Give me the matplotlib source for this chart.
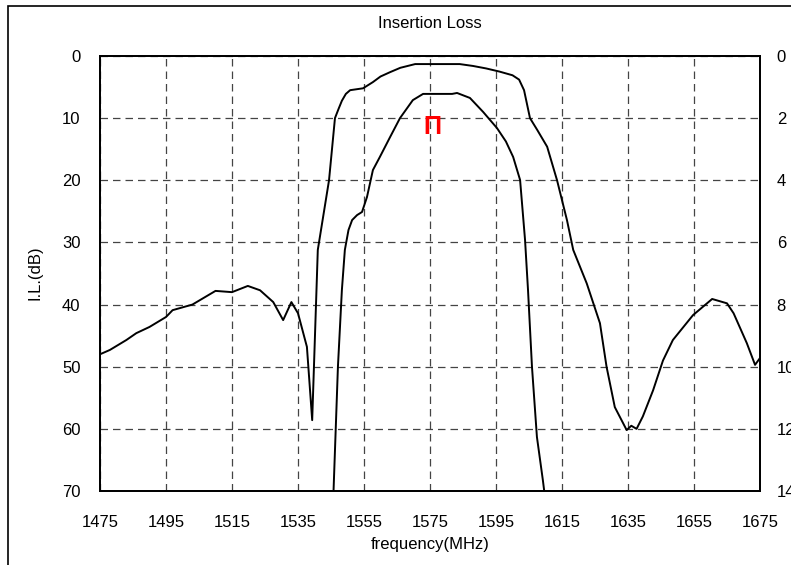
import matplotlib
matplotlib.use("Agg")
import matplotlib.pyplot as plt
from matplotlib.patches import Rectangle

plt.rcParams['font.family'] = ['Liberation Sans Narrow', 'Liberation Sans', 'DejaVu Sans']

# Wide response (left axis, dB)
wide_freq = [1475, 1478, 1483, 1486, 1490, 1495, 1497, 1503, 1510, 1515, 1519.8,
             1523.5, 1527.5, 1530.5, 1533, 1535, 1537.7, 1539.3, 1541, 1544.4,
             1546.2, 1547.3, 1548.3, 1549.5, 1550.8, 1554.7, 1557.7, 1560, 1562.9,
             1566, 1570.5, 1584, 1588, 1592, 1596, 1600, 1602, 1603.5, 1605.3,
             1607.5, 1610.5, 1613.5, 1616.5, 1618.4, 1622.5,
             1626.5, 1628.5, 1631, 1634.6, 1636, 1637.6, 1639.5, 1642.6, 1645.6,
             1648.6, 1654.7, 1660.5, 1665, 1667, 1671, 1673.5, 1675]
wide_loss = [48.0, 47.3, 45.7, 44.6, 43.6, 42.0, 40.9, 40.0, 37.8, 38.0, 37.0,
             37.7, 39.6, 42.5, 39.6, 41.4, 46.8, 58.6, 31.2, 20.0,
             10.0, 8.5, 7.2, 6.1, 5.5, 5.2, 4.2, 3.3, 2.6,
             1.9, 1.3, 1.3, 1.6, 2.0, 2.5, 3.1, 3.8, 5.5, 10.0,
             11.9, 14.6, 20.0, 26.4, 31.2, 36.6,
             43.0, 50.0, 56.5, 60.2, 59.5, 60.0, 58.0, 53.8, 49.0,
             45.7, 41.7, 39.1, 39.8, 41.4, 46.2, 49.7, 48.6]

# Narrow response (right axis)
narrow_freq = [1545.6, 1547.1, 1548.3, 1549.2, 1550.3, 1551.4, 1552.9, 1554.4, 1555.9,
               1557.7, 1559.8, 1562.9, 1565.9, 1569.8, 1572.9, 1581.7, 1583.2,
               1587.1, 1591.1, 1595.3, 1598, 1600.2, 1602.3, 1603.8, 1604.7, 1605.9,
               1607.4, 1609.2, 1610.2]
narrow_loss = [14.5, 10.0, 7.53, 6.24, 5.6, 5.28, 5.12, 5.02, 4.54,
               3.67, 3.25, 2.61, 2.0, 1.42, 1.22, 1.22, 1.19,
               1.35, 1.80, 2.32, 2.75, 3.25, 3.99, 5.92, 7.53, 10.0,
               12.26, 13.65, 14.5]

x_ticks = [1475, 1495, 1515, 1535, 1555, 1575, 1595, 1615, 1635, 1655, 1675]
left_ticks = [0, 10, 20, 30, 40, 50, 60, 70]
right_ticks = [0, 2, 4, 6, 8, 10, 12, 14]

FS = 12

fig = plt.figure(figsize=(7.91, 5.65), dpi=100)
ax = fig.add_axes([100/791, 1-491/565, 660/791, 435/565])

# outer frame
fig.patches.append(Rectangle((8/791, -0.1), 1.2, 1 - 6/565 + 0.1, transform=fig.transFigure,
                             fill=False, edgecolor='black', linewidth=1.2))

ax.plot(wide_freq, wide_loss, color='black', linewidth=1.4)
ax.set_xlim(1475, 1675)
ax.set_ylim(70, 0)
ax.set_xticks(x_ticks)
ax.set_yticks(left_ticks)
ax.grid(True, color='#444444', linestyle=(0, (6, 4)), linewidth=0.9)
ax.tick_params(length=0, labelsize=FS)
ax.tick_params(axis='x', pad=17)
ax.tick_params(axis='y', pad=14)
for s in ax.spines.values():
    s.set_linewidth(1.3)

ax2 = ax.twinx()
ax2.plot(narrow_freq, narrow_loss, color='black', linewidth=1.4)
ax2.set_ylim(14, 0)
ax2.set_yticks(right_ticks)
ax2.tick_params(length=0, labelsize=FS, pad=12)
for s in ax2.spines.values():
    s.set_linewidth(1.3)

ax.text(1575.6, 11.4, 'Π', color='red', fontsize=18, fontweight='bold',
        family=['Liberation Sans Narrow', 'Liberation Sans'], ha='center', va='center')

fig.text(430/791, 1-24/565, 'Insertion Loss', ha='center', va='center', fontsize=FS)
fig.text(430/791, 1-544/565, 'frequency(MHz)', ha='center', va='center', fontsize=FS)
fig.text(35/791, 1-273/565, 'I.L.(dB)', ha='center', va='center', fontsize=FS, rotation=90)

fig.savefig('out.png', dpi=100)
